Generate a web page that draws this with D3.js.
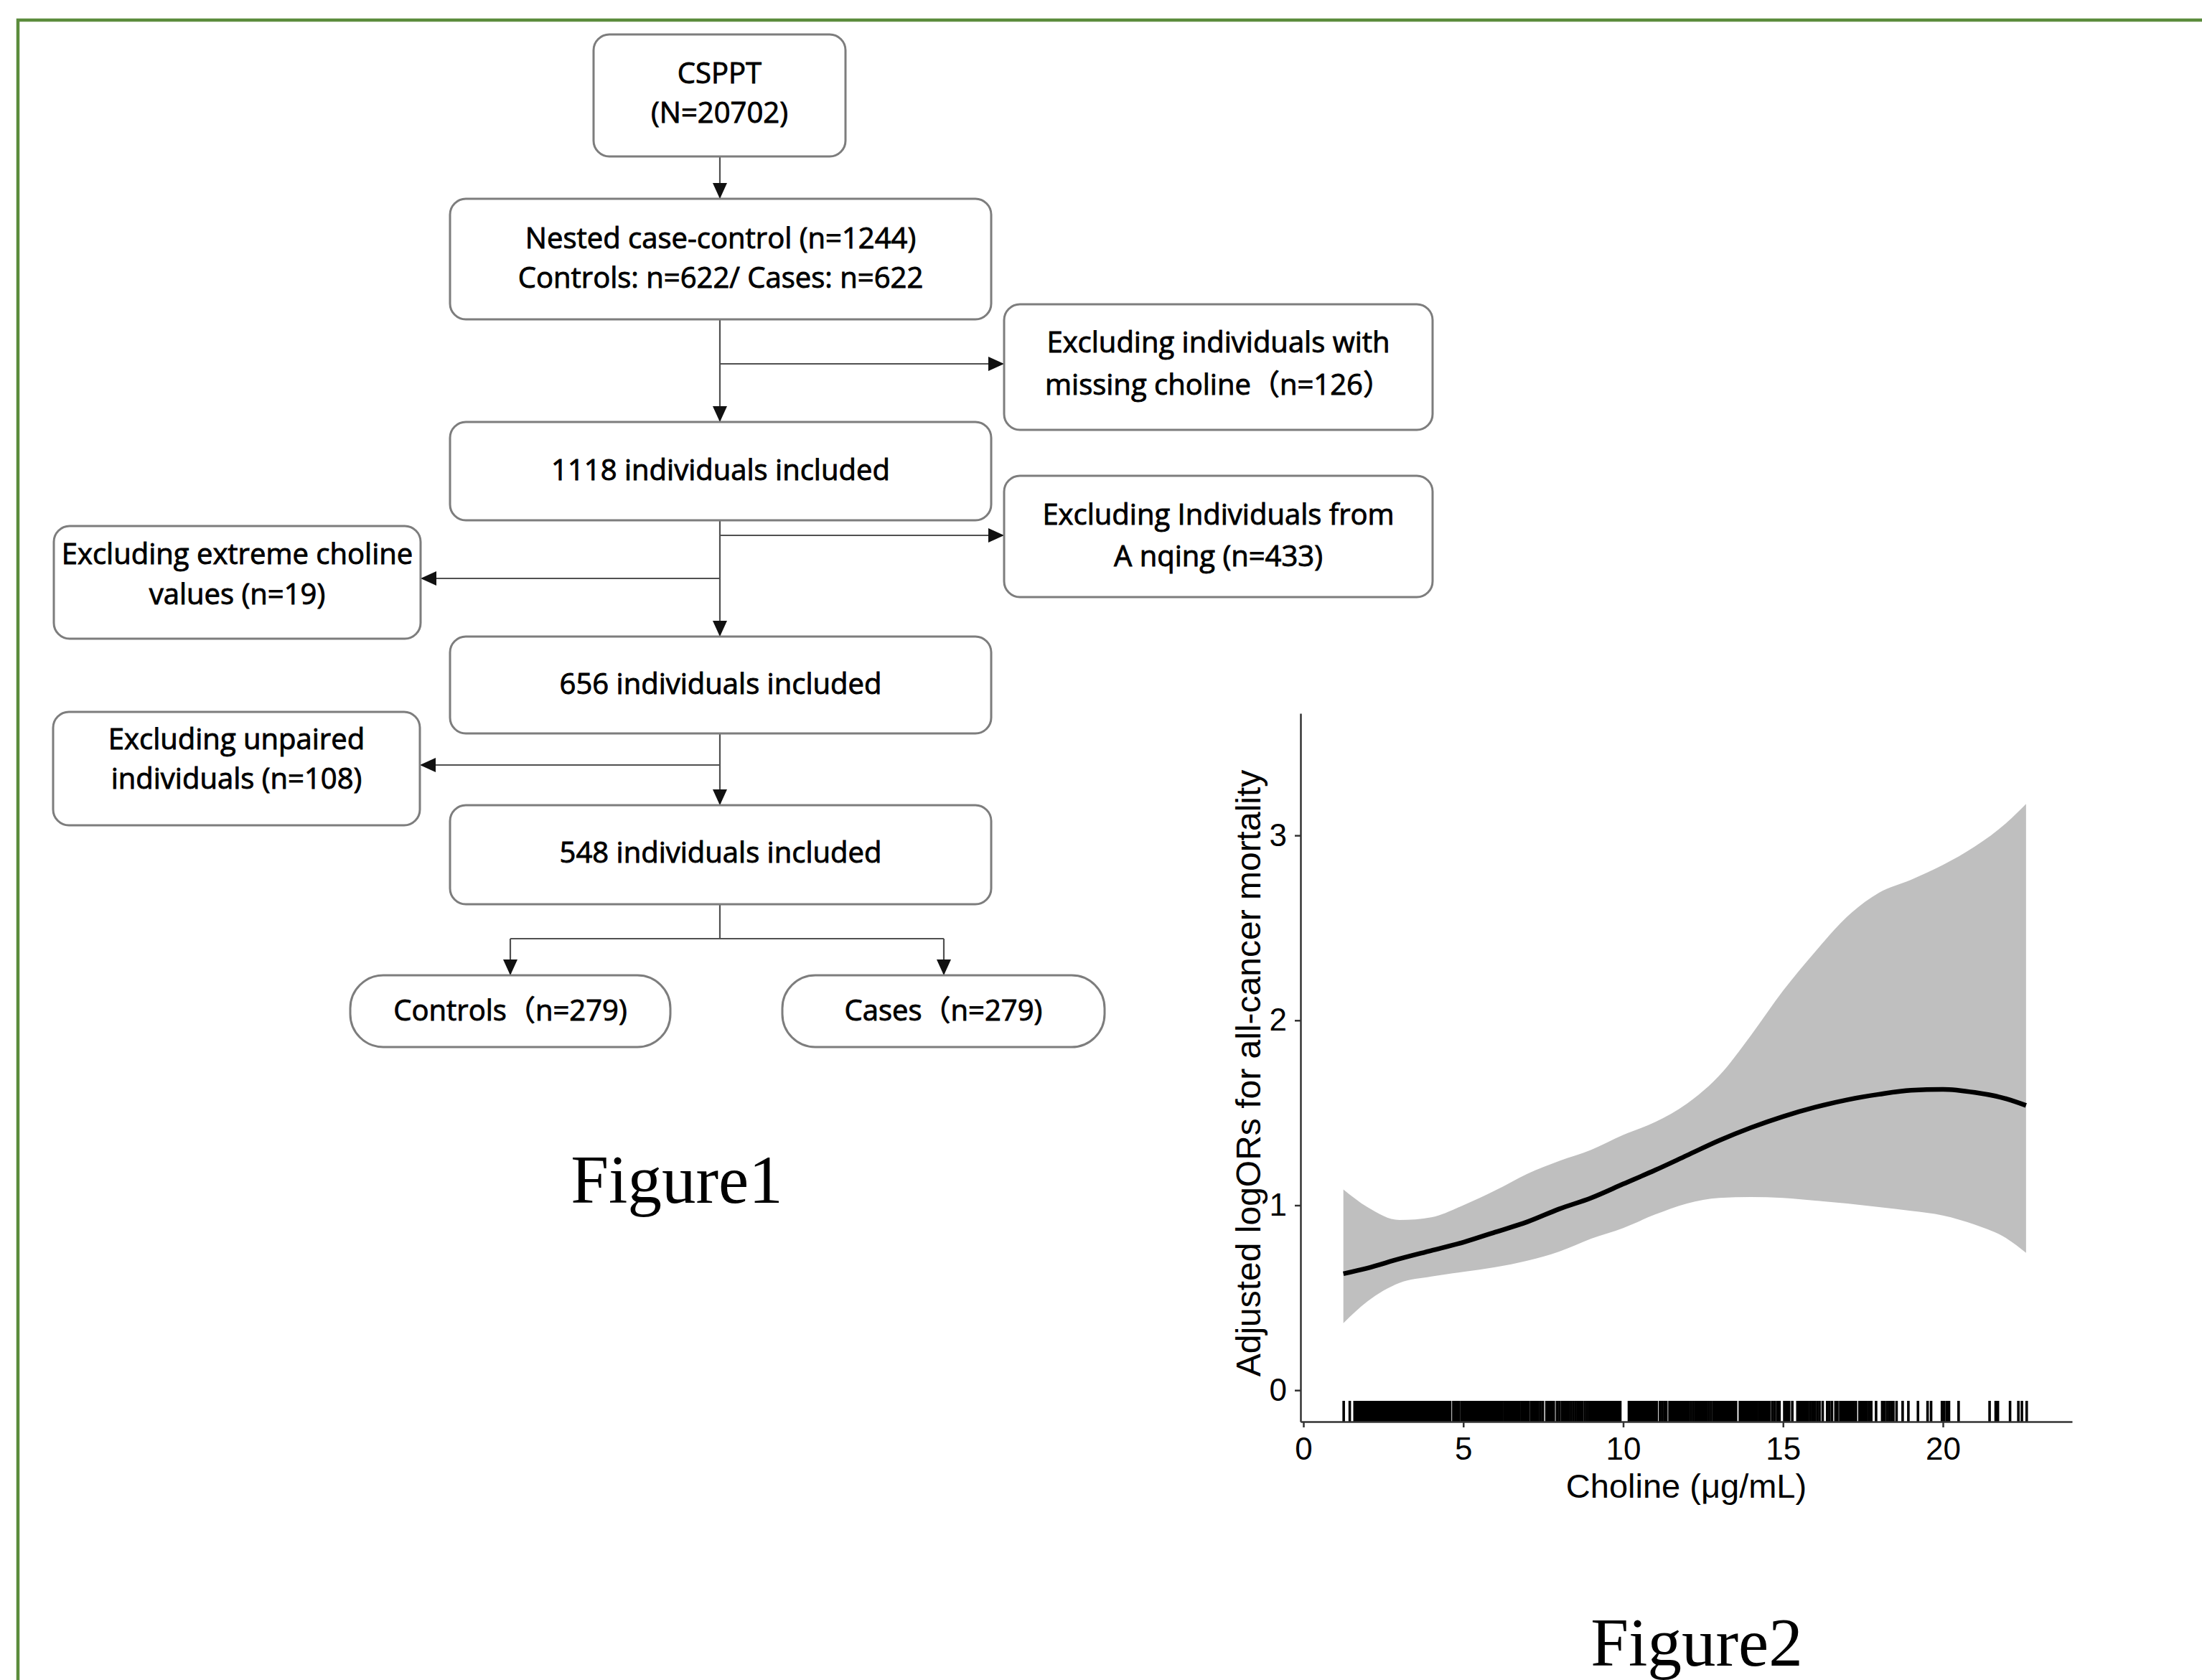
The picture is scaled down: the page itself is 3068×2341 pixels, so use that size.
<!DOCTYPE html>
<html>
<head>
<meta charset="utf-8">
<script src="https://cdn.jsdelivr.net/npm/d3@7"></script>
<style>
html,body{margin:0;padding:0;background:#fff;}
svg{display:block;}
</style>
</head>
<body>
<svg id="fig" width="3068" height="2341"></svg>
<script>
// ---------------- DATA ----------------
// Flowchart texts (Figure 1)
const flowText = {
  csppt:    ["CSPPT", "(N=20702)"],
  nested:   ["Nested case-control (n=1244)", "Controls: n=622/ Cases: n=622"],
  missing:  ["Excluding individuals with", "missing choline（n=126）"],
  inc1118:  ["1118 individuals included"],
  anqing:   ["Excluding Individuals from", "A nqing (n=433)"],
  extreme:  ["Excluding extreme choline", "values (n=19)"],
  inc656:   ["656 individuals included"],
  unpaired: ["Excluding unpaired", "individuals (n=108)"],
  inc548:   ["548 individuals included"],
  controls: ["Controls（n=279)"],
  cases:    ["Cases（n=279)"]
};
const figureCaptions = ["Figure1", "Figure2"];

// Figure 2: spline of adjusted logOR vs choline
const cholineGrid = [1.25, 2, 3, 4, 5, 6, 7, 8, 9, 10, 11, 12, 13, 14, 15, 16, 17, 18, 19, 20, 21, 22, 22.6];
const fitLogOR    = [0.63, 0.66, 0.71, 0.755, 0.80, 0.855, 0.91, 0.98, 1.04, 1.115, 1.19, 1.27, 1.35, 1.42, 1.48, 1.53, 1.57, 1.60, 1.622, 1.627, 1.61, 1.575, 1.54];
const upperCI     = [1.085, 0.99, 0.92, 0.935, 1.0, 1.08, 1.17, 1.24, 1.30, 1.38, 1.45, 1.55, 1.70, 1.92, 2.16, 2.37, 2.56, 2.69, 2.76, 2.84, 2.94, 3.07, 3.17];
const lowerCI     = [0.363, 0.48, 0.58, 0.615, 0.64, 0.665, 0.70, 0.75, 0.82, 0.877, 0.95, 1.01, 1.04, 1.045, 1.04, 1.025, 1.01, 0.99, 0.97, 0.945, 0.895, 0.82, 0.743];

const rugCholine = [
  1.26, 1.45, 1.60, 1.62,
  1.66,1.71,1.76,1.81,1.86,1.91,1.96,2.01,2.06,2.11,2.16,2.21,2.26,2.31,2.36,2.41,2.46,2.51,2.56,2.61,2.66,2.71,2.76,2.81,2.86,2.91,2.96,2.99,
  3.07,
  3.12,3.17,3.22,3.27,3.32,3.37,3.42,3.47,
  3.53,
  3.57,3.62,3.67,3.72,3.77,3.82,3.87,3.92,3.97,4.02,4.07,4.12,4.17,4.22,4.27,4.32,4.37,4.42,
  4.48,4.54,4.59,
  4.69,4.74,4.79,4.83,
  4.87,
  4.95,5.00,5.05,5.10,5.13,
  5.19,
  5.25,5.30,5.35,5.40,5.45,5.50,5.55,5.60,
  5.66,5.72,
  5.78,5.83,5.88,5.93,5.98,6.03,6.08,6.13,6.18,6.22,
  6.29,
  6.37,6.42,6.47,6.52,
  6.59,6.64,6.69,6.74,
  6.82,6.87,6.92,6.97,7.02,7.04,
  7.12,
  7.19,7.24,7.29,7.34,
  7.41,7.49,
  7.60,7.65,7.70,7.75,7.80,7.83,
  7.93,
  8.01,8.09,8.16,8.23,8.30,8.37,8.44,8.51,8.58,8.65,8.72,8.80,8.87,
  8.95,9.00,9.05,9.10,9.15,9.20,
  9.26,
  9.31,9.36,9.41,9.46,9.51,9.56,9.61,9.66,9.71,9.76,9.81,9.86,9.91,
  10.18,10.23,10.28,10.33,
  10.40,10.45,10.50,10.55,10.60,10.65,10.70,10.75,10.80,10.85,10.90,10.95,11.00,11.05,
  11.15,11.22,11.29,11.35,
  11.45,11.50,11.55,11.60,11.65,11.70,11.75,11.80,11.85,11.90,11.95,12.00,12.05,
  12.12,12.19,12.26,12.33,12.40,12.47,12.54,12.61,12.68,12.75,
  12.83,12.88,12.93,12.98,13.03,13.08,13.13,13.18,13.23,13.28,13.33,13.38,13.43,13.48,13.53,
  13.65,13.70,13.75,13.80,13.85,13.88,
  13.93,13.98,14.03,14.08,14.13,14.18,14.25,14.30,14.35,14.42,14.47,14.52,14.57,
  14.66,14.74,14.82,14.89,
  15.04,15.09,15.14,15.19,
  15.29,
  15.45,15.50,15.55,15.60,15.65,15.70,15.75,15.78,
  15.85,15.92,15.99,16.07,16.14,16.24,
  16.38,16.45,16.53,16.64,16.70,
  16.79,16.84,16.89,16.94,16.99,17.02,
  17.08,17.14,17.21,17.28,
  17.39,17.44,17.49,17.54,17.59,17.62,
  17.69,17.76,17.91,
  18.10,18.17,18.25,18.32,18.40,18.45,
  18.55,18.74,18.92,19.22,19.52,19.63,19.97,20.04,20.12,20.19,20.49,
  21.46,21.65,21.72,22.10,22.36,22.47,22.62
];
const xTickValues = [0, 5, 10, 15, 20];
const yTickValues = [0, 1, 2, 3];
const xTitle = "Choline (μg/mL)";
const yTitle = "Adjusted logORs for all-cancer mortality";

// ---------------- LAYOUT / STYLE ----------------
const boxLayout = {
  csppt:    {x0: 827,  y0: 48,   x1: 1178, y1: 218,  ty: [102, 157], r: 22},
  nested:   {x0: 627,  y0: 277,  x1: 1381, y1: 445,  ty: [332, 387], r: 22},
  missing:  {x0: 1399, y0: 424,  x1: 1996, y1: 599,  ty: [477, 536], r: 22},
  inc1118:  {x0: 627,  y0: 588,  x1: 1381, y1: 725,  ty: [655], r: 22},
  anqing:   {x0: 1399, y0: 663,  x1: 1996, y1: 832,  ty: [717, 775], r: 22},
  extreme:  {x0: 75,   y0: 733,  x1: 586,  y1: 890,  ty: [772, 828], r: 22},
  inc656:   {x0: 627,  y0: 887,  x1: 1381, y1: 1022, ty: [953], r: 22},
  unpaired: {x0: 74,   y0: 992,  x1: 585,  y1: 1150, ty: [1030, 1085], r: 22},
  inc548:   {x0: 627,  y0: 1122, x1: 1381, y1: 1260, ty: [1188], r: 22},
  controls: {x0: 488,  y0: 1359, x1: 934,  y1: 1459, ty: [1408], r: 46},
  cases:    {x0: 1090, y0: 1359, x1: 1539, y1: 1459, ty: [1408], r: 46}
};
const spineX = 1003;
const connectors = [
  {pts: [[spineX, 218], [spineX, 277]], arrow: true},
  {pts: [[spineX, 445], [spineX, 588]], arrow: true},
  {pts: [[spineX, 507], [1399, 507]], arrow: true},
  {pts: [[spineX, 725], [spineX, 887]], arrow: true},
  {pts: [[spineX, 746], [1399, 746]], arrow: true},
  {pts: [[spineX, 806], [586, 806]], arrow: true},
  {pts: [[spineX, 1022], [spineX, 1122]], arrow: true},
  {pts: [[spineX, 1066], [585, 1066]], arrow: true},
  {pts: [[spineX, 1260], [spineX, 1308]], arrow: false},
  {pts: [[711, 1308], [1315, 1308]], arrow: false},
  {pts: [[711, 1308], [711, 1359]], arrow: true},
  {pts: [[1315, 1308], [1315, 1359]], arrow: true}
];

const svg = d3.select("#fig");
svg.append("rect").attr("width", 3068).attr("height", 2341).attr("fill", "#fff");

// green frame
svg.append("path")
  .attr("d", "M25,2345 V28 H3072")
  .attr("fill", "none")
  .attr("stroke", "#5b8c3c")
  .attr("stroke-width", 4.5);

// arrow marker
const defs = svg.append("defs");
defs.append("marker")
  .attr("id", "arr")
  .attr("markerUnits", "userSpaceOnUse")
  .attr("viewBox", "0 0 22 20")
  .attr("refX", 22).attr("refY", 10)
  .attr("markerWidth", 22).attr("markerHeight", 20)
  .attr("orient", "auto")
  .append("path").attr("d", "M0,0 L22,10 L0,20 Z").attr("fill", "#111");

// ---------- Figure 1 ----------
const flow = svg.append("g").attr("class", "flow");
const lineGen = d3.line();
flow.selectAll("path.conn").data(connectors).join("path")
  .attr("class", "conn")
  .attr("d", d => lineGen(d.pts))
  .attr("fill", "none")
  .attr("stroke", "#505050")
  .attr("stroke-width", 2.2)
  .attr("marker-end", d => d.arrow ? "url(#arr)" : null);

const boxKeys = Object.keys(flowText);
const bx = flow.selectAll("g.box").data(boxKeys).join("g").attr("class", "box");
bx.append("rect")
  .attr("x", k => boxLayout[k].x0)
  .attr("y", k => boxLayout[k].y0)
  .attr("width", k => boxLayout[k].x1 - boxLayout[k].x0)
  .attr("height", k => boxLayout[k].y1 - boxLayout[k].y0)
  .attr("rx", k => boxLayout[k].r).attr("ry", k => boxLayout[k].r)
  .attr("fill", "#fff")
  .attr("stroke", "#7d7d7d")
  .attr("stroke-width", 3);
bx.each(function(k) {
  const L = boxLayout[k];
  const cx = (L.x0 + L.x1) / 2;
  d3.select(this).selectAll("text").data(flowText[k]).join("text")
    .attr("x", cx)
    .attr("y", (d, i) => L.ty[i])
    .attr("dy", "0.36em")
    .attr("text-anchor", "middle")
    .attr("font-family", "'Open Sans', 'Noto Sans CJK SC', sans-serif")
    .attr("font-size", 40)
    .attr("fill", "#000")
    .attr("stroke", "#000")
    .attr("stroke-width", 0.9)
    .text(d => d);
});

// captions
const captionPos = [[943, 1676], [2364, 2321]];
svg.selectAll("text.caption").data(figureCaptions).join("text")
  .attr("class", "caption")
  .attr("x", (d, i) => captionPos[i][0])
  .attr("y", (d, i) => captionPos[i][1])
  .attr("text-anchor", "middle")
  .attr("font-family", "'Liberation Serif', 'Times New Roman', serif")
  .attr("font-size", 95)
  .attr("fill", "#000")
  .text(d => d);

// ---------- Figure 2 ----------
const x = d3.scaleLinear().domain([-0.09, 24.04]).range([1812, 2887]);
const y = d3.scaleLinear().domain([-0.17, 3.66]).range([1981, 994]);
const chart = svg.append("g").attr("class", "chart");

const bandData = cholineGrid.map((c, i) => ({c, lo: lowerCI[i], hi: upperCI[i], f: fitLogOR[i]}));
chart.append("path")
  .datum(bandData)
  .attr("d", d3.area().x(d => x(d.c)).y0(d => y(d.lo)).y1(d => y(d.hi)).curve(d3.curveMonotoneX))
  .attr("fill", "#bfbfbf");
chart.append("path")
  .datum(bandData)
  .attr("d", d3.line().x(d => x(d.c)).y(d => y(d.f)).curve(d3.curveMonotoneX))
  .attr("fill", "none")
  .attr("stroke", "#000")
  .attr("stroke-width", 6.5);

// rug
const rugTop = 1952;
chart.append("g").selectAll("line").data(rugCholine).join("line")
  .attr("x1", d => x(d)).attr("x2", d => x(d))
  .attr("y1", rugTop).attr("y2", y.range()[0])
  .attr("stroke", "#000")
  .attr("stroke-width", 3.6);

const fontAxis = "'Liberation Sans', Arial, sans-serif";
const gx = chart.append("g").attr("transform", `translate(0,${y.range()[0]})`)
  .call(d3.axisBottom(x).tickValues(xTickValues).tickSize(8).tickSizeOuter(0).tickPadding(14).tickFormat(d3.format("d")));
const gy = chart.append("g").attr("transform", `translate(${x.range()[0]},0)`)
  .call(d3.axisLeft(y).tickValues(yTickValues).tickSize(8).tickSizeOuter(0).tickPadding(11).tickFormat(d3.format("d")));
[gx, gy].forEach(g => {
  g.select(".domain").attr("stroke", "#333").attr("stroke-width", 2.5);
  g.selectAll(".tick line").attr("stroke", "#333").attr("stroke-width", 2.5);
  g.selectAll(".tick text").attr("font-family", fontAxis).attr("font-size", 44).attr("fill", "#000");
});

chart.append("text")
  .attr("x", (x.range()[0] + x.range()[1]) / 2)
  .attr("y", 2087)
  .attr("text-anchor", "middle")
  .attr("font-family", fontAxis)
  .attr("font-size", 47)
  .attr("fill", "#000")
  .text(xTitle);
chart.append("text")
  .attr("transform", `translate(1756,${(y.range()[0] + y.range()[1]) / 2 + 8}) rotate(-90)`)
  .attr("text-anchor", "middle")
  .attr("font-family", fontAxis)
  .attr("font-size", 48)
  .attr("fill", "#000")
  .text(yTitle);
</script>
</body>
</html>
